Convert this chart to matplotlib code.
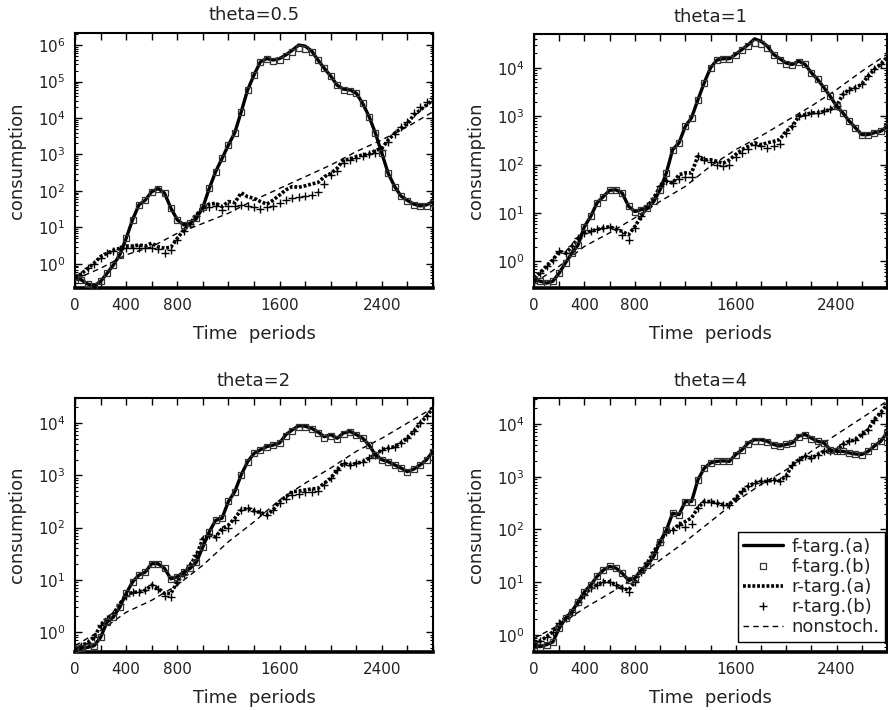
import numpy as np
import matplotlib
matplotlib.use("Agg")
import matplotlib.pyplot as plt
from matplotlib.ticker import FixedLocator, FixedFormatter, LogLocator, LogFormatterMathtext, NullFormatter

plt.rcParams['font.family'] = ['DejaVu Sans']
plt.rcParams['mathtext.fontset'] = 'dejavusans'

# ---------------- data (log10 of consumption) ----------------
time = list(range(0, 2801, 50))
time_ns = list(range(0, 2801, 200))

titles = ["theta=0.5", "theta=1", "theta=2", "theta=4"]
labels = ["f-targ.(a)", "f-targ.(b)", "r-targ.(a)", "r-targ.(b)", "nonstoch."]

# theta = 0.5
p1_f_a = [-0.35, -0.44, -0.55, -0.60, -0.48, -0.26, -0.03, 0.25, 0.70, 1.21,
          1.62, 1.75, 1.98, 2.07, 1.94, 1.53, 1.21, 1.07, 1.11, 1.25,
          1.55, 2.07, 2.53, 2.89, 3.26, 3.60, 4.17, 4.77, 5.18, 5.54,
          5.63, 5.59, 5.63, 5.73, 5.86, 6.00, 5.97, 5.84, 5.59, 5.36,
          5.15, 4.90, 4.79, 4.77, 4.68, 4.40, 4.04, 3.58, 3.03, 2.48,
          2.12, 1.86, 1.74, 1.64, 1.59, 1.62, 1.71]
p1_f_b = [-0.35, -0.44, -0.55, -0.60, -0.48, -0.26, -0.03, 0.25, 0.70, 1.21,
          1.62, 1.75, 1.98, 2.05, 1.94, 1.53, 1.21, 1.07, 1.11, 1.25,
          1.55, 2.07, 2.53, 2.89, 3.26, 3.60, 4.17, 4.77, 5.18, 5.54,
          5.63, 5.57, 5.60, 5.70, 5.80, 5.93, 5.90, 5.80, 5.59, 5.36,
          5.15, 4.90, 4.77, 4.75, 4.68, 4.40, 4.04, 3.58, 3.03, 2.48,
          2.12, 1.86, 1.72, 1.62, 1.60, 1.60, 1.68]
p1_r_a = [-0.39, -0.27, -0.12, 0.02, 0.20, 0.29, 0.37, 0.43, 0.49, 0.49,
          0.52, 0.49, 0.57, 0.47, 0.43, 0.46, 0.70, 0.93, 1.11, 1.34,
          1.55, 1.64, 1.66, 1.57, 1.71, 1.68, 1.95, 1.84, 1.80, 1.71,
          1.64, 1.75, 1.89, 2.03, 2.12, 2.10, 2.14, 2.19, 2.23, 2.39,
          2.48, 2.62, 2.85, 2.87, 2.94, 2.99, 3.01, 3.11, 3.17, 3.40,
          3.58, 3.72, 3.85, 4.08, 4.22, 4.36, 4.49]
p1_r_b = [-0.35, -0.30, -0.10, 0.00, 0.15, 0.30, 0.35, 0.42, 0.45, 0.43,
          0.45, 0.43, 0.45, 0.40, 0.30, 0.38, 0.65, 0.90, 1.10, 1.30,
          1.52, 1.55, 1.60, 1.47, 1.58, 1.60, 1.62, 1.60, 1.55, 1.50,
          1.55, 1.60, 1.66, 1.75, 1.80, 1.83, 1.85, 1.90, 1.97, 2.20,
          2.45, 2.55, 2.78, 2.85, 2.90, 2.96, 3.00, 3.05, 3.12, 3.35,
          3.55, 3.75, 3.90, 4.15, 4.30, 4.45, 4.55]
p1_ns = [-0.42, -0.12, 0.25, 0.47, 0.84, 1.11, 1.39, 1.75, 2.07, 2.39,
         2.71, 3.08, 3.40, 3.76, 4.17]

# theta = 1
p2_f_a = [-0.38, -0.41, -0.45, -0.41, -0.24, -0.03, 0.17, 0.34, 0.72, 0.93,
          1.21, 1.34, 1.47, 1.48, 1.41, 1.14, 1.03, 1.07, 1.10, 1.24,
          1.48, 1.83, 2.31, 2.45, 2.79, 2.97, 3.34, 3.69, 4.00, 4.16,
          4.19, 4.19, 4.28, 4.38, 4.48, 4.60, 4.55, 4.45, 4.28, 4.19,
          4.10, 4.07, 4.14, 4.07, 3.90, 3.76, 3.59, 3.41, 3.21, 3.07,
          2.90, 2.76, 2.62, 2.62, 2.66, 2.69, 2.79]
p2_f_b = [-0.38, -0.41, -0.45, -0.41, -0.24, -0.03, 0.17, 0.34, 0.72, 0.93,
          1.21, 1.34, 1.47, 1.48, 1.41, 1.14, 1.03, 1.07, 1.10, 1.24,
          1.48, 1.83, 2.31, 2.45, 2.79, 2.97, 3.34, 3.69, 4.00, 4.16,
          4.19, 4.19, 4.26, 4.36, 4.45, 4.52, 4.50, 4.42, 4.26, 4.17,
          4.08, 4.05, 4.12, 4.07, 3.90, 3.76, 3.59, 3.41, 3.21, 3.07,
          2.90, 2.76, 2.62, 2.62, 2.66, 2.69, 2.79]
p2_r_a = [-0.34, -0.24, -0.10, 0.03, 0.21, 0.17, 0.31, 0.48, 0.59, 0.62,
          0.66, 0.69, 0.72, 0.66, 0.62, 0.55, 0.72, 0.93, 1.14, 1.31,
          1.55, 1.66, 1.62, 1.79, 1.83, 1.83, 2.17, 2.10, 2.10, 2.07,
          2.03, 2.10, 2.21, 2.31, 2.38, 2.45, 2.41, 2.45, 2.48, 2.52,
          2.69, 2.79, 3.00, 3.03, 3.07, 3.07, 3.10, 3.14, 3.21, 3.45,
          3.55, 3.59, 3.66, 3.83, 3.97, 4.07, 4.21]
p2_r_b = [-0.34, -0.24, -0.10, 0.03, 0.21, 0.17, 0.31, 0.48, 0.59, 0.62,
          0.66, 0.69, 0.72, 0.66, 0.55, 0.45, 0.70, 0.93, 1.14, 1.31,
          1.55, 1.66, 1.62, 1.70, 1.75, 1.75, 2.17, 2.10, 2.05, 2.00,
          1.98, 2.00, 2.15, 2.25, 2.33, 2.40, 2.38, 2.35, 2.38, 2.42,
          2.65, 2.79, 3.00, 3.03, 3.07, 3.07, 3.10, 3.14, 3.21, 3.45,
          3.55, 3.59, 3.66, 3.83, 3.97, 4.07, 4.21]
p2_ns = [-0.45, -0.10, 0.31, 0.59, 0.90, 1.24, 1.55, 1.97, 2.31, 2.59,
         2.90, 3.21, 3.55, 3.93, 4.28]

# theta = 2
p3_f_a = [-0.32, -0.31, -0.29, -0.26, -0.10, 0.19, 0.29, 0.48, 0.74, 0.96,
          1.09, 1.15, 1.31, 1.31, 1.22, 1.02, 1.06, 1.15, 1.22, 1.34,
          1.63, 1.92, 2.14, 2.18, 2.50, 2.69, 3.01, 3.26, 3.42, 3.49,
          3.55, 3.58, 3.62, 3.78, 3.87, 3.95, 3.94, 3.90, 3.83, 3.74,
          3.78, 3.71, 3.81, 3.84, 3.78, 3.71, 3.58, 3.39, 3.30, 3.26,
          3.20, 3.14, 3.07, 3.12, 3.20, 3.30, 3.46]
p3_f_b = [-0.32, -0.31, -0.29, -0.26, -0.10, 0.19, 0.29, 0.48, 0.74, 0.96,
          1.09, 1.15, 1.31, 1.31, 1.22, 1.02, 1.06, 1.15, 1.22, 1.34,
          1.63, 1.92, 2.14, 2.18, 2.50, 2.69, 3.01, 3.26, 3.42, 3.49,
          3.55, 3.58, 3.62, 3.76, 3.85, 3.92, 3.92, 3.88, 3.81, 3.72,
          3.76, 3.70, 3.80, 3.82, 3.78, 3.71, 3.58, 3.39, 3.30, 3.26,
          3.20, 3.14, 3.07, 3.12, 3.20, 3.30, 3.44]
p3_r_a = [-0.32, -0.26, -0.20, -0.10, 0.13, 0.26, 0.35, 0.54, 0.70, 0.76,
          0.77, 0.80, 0.90, 0.83, 0.74, 0.74, 0.96, 1.12, 1.28, 1.47,
          1.79, 1.86, 1.82, 1.98, 2.05, 2.18, 2.34, 2.37, 2.32, 2.29,
          2.24, 2.34, 2.50, 2.59, 2.69, 2.70, 2.72, 2.74, 2.75, 2.85,
          2.94, 3.10, 3.23, 3.20, 3.23, 3.26, 3.33, 3.39, 3.49, 3.52,
          3.55, 3.62, 3.71, 3.84, 4.00, 4.13, 4.29]
p3_r_b = [-0.32, -0.26, -0.20, -0.10, 0.13, 0.26, 0.35, 0.54, 0.70, 0.76,
          0.77, 0.80, 0.90, 0.83, 0.70, 0.68, 0.96, 1.12, 1.28, 1.47,
          1.79, 1.86, 1.82, 1.95, 2.00, 2.15, 2.34, 2.37, 2.32, 2.29,
          2.24, 2.34, 2.48, 2.55, 2.63, 2.65, 2.68, 2.69, 2.70, 2.82,
          2.94, 3.10, 3.23, 3.20, 3.23, 3.26, 3.33, 3.39, 3.49, 3.52,
          3.55, 3.62, 3.71, 3.84, 4.00, 4.13, 4.29]
p3_ns = [-0.26, 0.03, 0.38, 0.61, 0.90, 1.28, 1.73, 2.11, 2.53, 2.85,
         3.14, 3.46, 3.71, 4.00, 4.29]

# theta = 4
p4_f_a = [-0.19, -0.22, -0.18, -0.13, 0.13, 0.32, 0.44, 0.63, 0.82, 0.95,
          1.11, 1.23, 1.30, 1.27, 1.17, 1.04, 1.08, 1.23, 1.33, 1.49,
          1.77, 1.99, 2.31, 2.28, 2.53, 2.53, 2.94, 3.16, 3.26, 3.29,
          3.30, 3.29, 3.42, 3.51, 3.64, 3.70, 3.70, 3.67, 3.61, 3.58,
          3.61, 3.64, 3.77, 3.80, 3.73, 3.67, 3.64, 3.51, 3.48, 3.48,
          3.45, 3.43, 3.42, 3.48, 3.58, 3.67, 3.83]
p4_f_b = [-0.19, -0.22, -0.18, -0.13, 0.13, 0.32, 0.44, 0.63, 0.82, 0.95,
          1.11, 1.23, 1.30, 1.27, 1.17, 1.04, 1.08, 1.23, 1.33, 1.49,
          1.77, 1.99, 2.31, 2.28, 2.53, 2.53, 2.94, 3.16, 3.26, 3.29,
          3.30, 3.29, 3.42, 3.51, 3.62, 3.68, 3.68, 3.66, 3.60, 3.58,
          3.61, 3.64, 3.76, 3.78, 3.72, 3.67, 3.64, 3.51, 3.48, 3.48,
          3.45, 3.43, 3.42, 3.48, 3.58, 3.67, 3.83]
p4_r_a = [-0.13, -0.11, -0.03, 0.06, 0.22, 0.32, 0.44, 0.63, 0.76, 0.89,
          0.95, 1.01, 1.01, 0.95, 0.89, 0.85, 1.01, 1.20, 1.36, 1.58,
          1.77, 1.96, 1.99, 2.09, 2.15, 2.22, 2.41, 2.53, 2.53, 2.50,
          2.47, 2.47, 2.59, 2.72, 2.82, 2.88, 2.91, 2.91, 2.94, 2.92,
          3.01, 3.23, 3.32, 3.39, 3.35, 3.42, 3.48, 3.48, 3.51, 3.61,
          3.67, 3.70, 3.80, 3.89, 4.08, 4.21, 4.37]
p4_r_b = [-0.13, -0.11, -0.03, 0.06, 0.22, 0.32, 0.44, 0.63, 0.76, 0.89,
          0.95, 1.01, 1.01, 0.95, 0.89, 0.82, 1.01, 1.20, 1.36, 1.58,
          1.77, 1.96, 1.99, 2.09, 2.05, 2.10, 2.41, 2.53, 2.53, 2.50,
          2.47, 2.47, 2.59, 2.72, 2.82, 2.88, 2.91, 2.91, 2.94, 2.92,
          3.01, 3.23, 3.32, 3.39, 3.35, 3.42, 3.48, 3.48, 3.51, 3.61,
          3.67, 3.70, 3.80, 3.89, 4.08, 4.21, 4.37]
p4_ns = [-0.06, 0.19, 0.51, 0.79, 1.08, 1.42, 1.77, 2.15, 2.53, 2.85,
         3.13, 3.48, 3.80, 4.11, 4.43]

panels = [
    (p1_f_a, p1_f_b, p1_r_a, p1_r_b, p1_ns),
    (p2_f_a, p2_f_b, p2_r_a, p2_r_b, p2_ns),
    (p3_f_a, p3_f_b, p3_r_a, p3_r_b, p3_ns),
    (p4_f_a, p4_f_b, p4_r_a, p4_r_b, p4_ns),
]
# y-limits (log10) of each panel
ylims = [(-0.66, 6.33), (-0.55, 4.70), (-0.38, 4.48), (-0.32, 4.49)]

xtick_pos = list(range(0, 2801, 200))
xtick_lab = ["0", "", "400", "", "800", "", "", "", "1600", "", "", "", "2400", "", ""]

# ---------------- layout ----------------
W, H = 888, 710
boxes = [(75, 433, 33, 288), (534, 887, 34, 288), (75, 433, 398, 652), (534, 887, 398, 652)]
TXT = '#222222'

fig = plt.figure(figsize=(W / 100, H / 100), dpi=100)

axes = []
for i, (l, r, t, b) in enumerate(boxes):
    ax = fig.add_axes([l / W, 1 - b / H, (r - l) / W, (b - t) / H])
    axes.append(ax)
    f_a, f_b, r_a, r_b, ns = panels[i]
    x = np.array(time)
    ax.plot(x, 10 ** np.array(f_a), color='black', lw=2.4, solid_capstyle='round',
            label=labels[0], zorder=4)
    ax.plot(x, 10 ** np.array(f_b), linestyle='none', marker='s', ms=4.5,
            mfc='none', mec='#333333', mew=0.9, label=labels[1], zorder=5)
    ax.plot(x, 10 ** np.array(r_a), color='black', lw=2.6, linestyle=(0, (0.8, 0.5)),
            label=labels[2], zorder=3)
    ax.plot(x, 10 ** np.array(r_b), linestyle='none', marker='+', ms=6,
            mec='black', mew=1.0, label=labels[3], zorder=3)
    ax.plot(np.array(time_ns), 10 ** np.array(ns), color='black', lw=1.0,
            linestyle=(0, (4, 3)), label=labels[4], zorder=2)

    ax.set_yscale('log')
    ax.set_xlim(0, 2800)
    ax.set_ylim(10 ** ylims[i][0], 10 ** ylims[i][1])
    ax.xaxis.set_major_locator(FixedLocator(xtick_pos))
    ax.xaxis.set_major_formatter(FixedFormatter(xtick_lab))
    ax.yaxis.set_major_locator(LogLocator(base=10, numticks=20))
    ax.yaxis.set_major_formatter(LogFormatterMathtext())
    ax.yaxis.set_minor_locator(LogLocator(base=10, subs=np.arange(2, 10), numticks=20))
    ax.yaxis.set_minor_formatter(NullFormatter())
    ax.tick_params(axis='both', which='major', direction='in', top=True, right=True,
                   length=5, width=1.0, labelsize=11, labelcolor=TXT, pad=7)
    ax.tick_params(axis='y', which='minor', direction='in', left=True, right=True,
                   length=2.5, width=0.8)
    for s in ['left', 'top', 'right']:
        ax.spines[s].set_linewidth(1.5)
    ax.spines['bottom'].set_linewidth(2.6)
    ax.set_title(titles[i], fontsize=13, color=TXT, pad=9)
    ax.set_xlabel("Time  periods", fontsize=13, color=TXT, labelpad=9)
    ax.set_ylabel("consumption", fontsize=13, color=TXT, labelpad=8)

leg = axes[3].legend(loc='lower right', bbox_to_anchor=(0.995, 0.04), fontsize=13,
                     frameon=True, fancybox=False, edgecolor='black', framealpha=1,
                     handlelength=2.2, handletextpad=0.5, borderpad=0.3,
                     labelspacing=0.12, borderaxespad=0)
leg.get_frame().set_linewidth(1.0)
for t in leg.get_texts():
    t.set_color(TXT)

fig.savefig("out.png", dpi=100)
